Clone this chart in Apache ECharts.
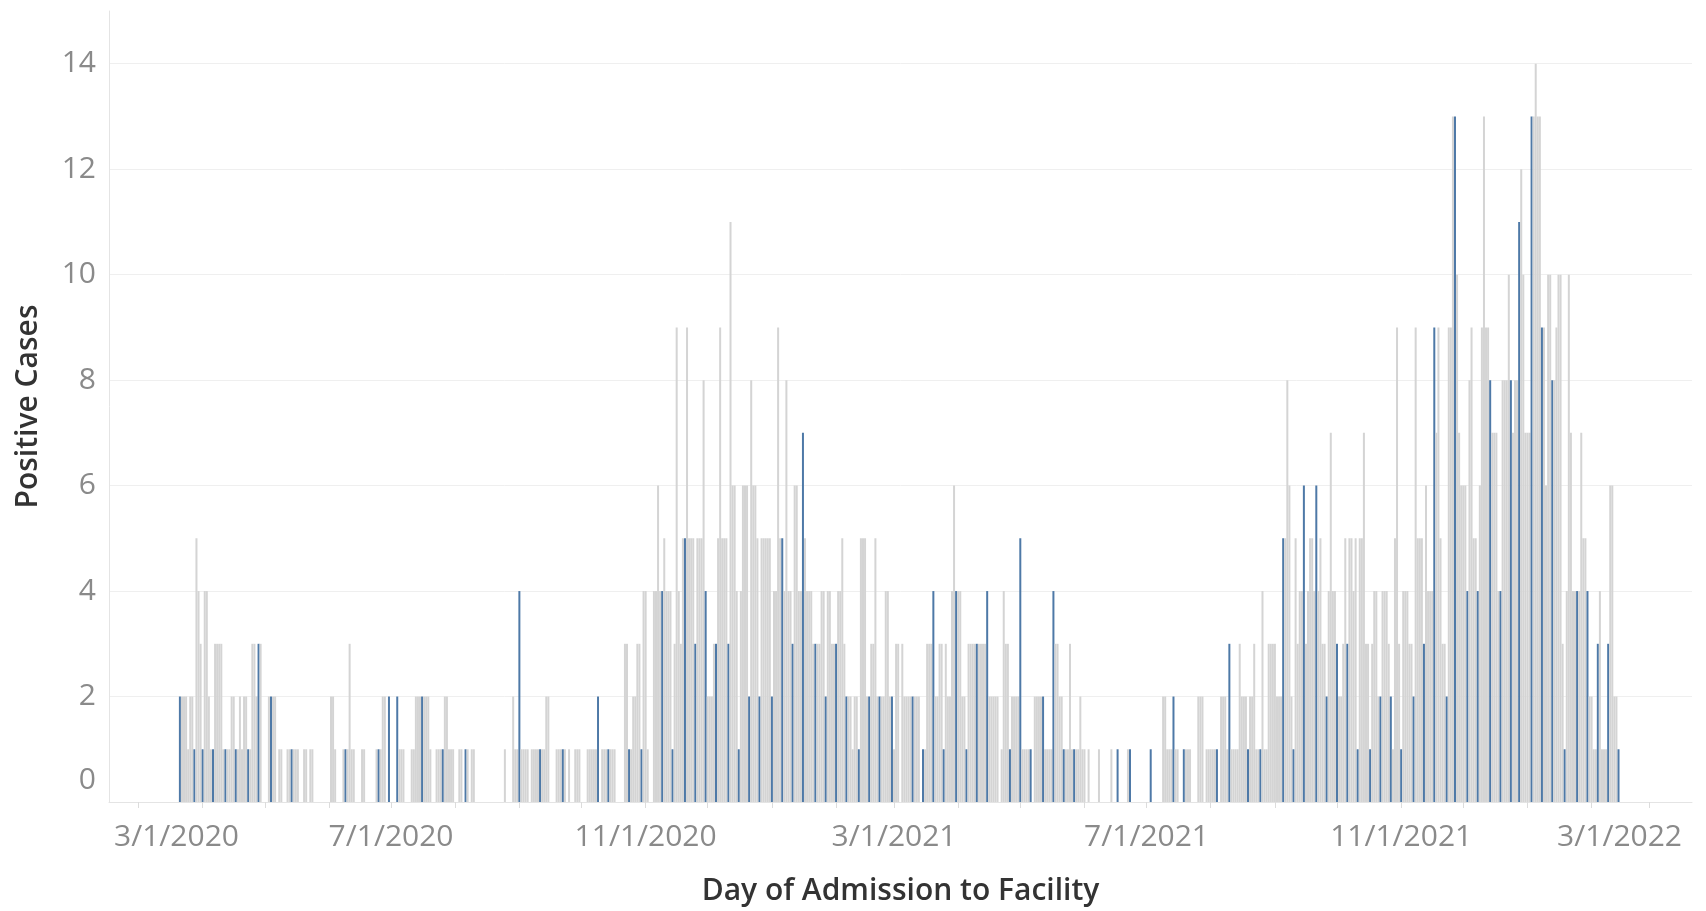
<!DOCTYPE html>
<html>
<head>
<meta charset="utf-8">
<title>Positive Cases by Day of Admission</title>
<script src="https://cdn.jsdelivr.net/npm/echarts@6/dist/echarts.min.js"></script>
<style>
  html, body { margin: 0; padding: 0; background: #fff; }
  #chart { width: 1706px; height: 911px; }
</style>
</head>
<body>
<div id="chart"></div>
<script>
// first day of the daily series (UTC)
const seriesStart = '2020-03-19'

// positive cases per day of admission, one value per day from seriesStart
const positiveCases = [
  0,0,2,2,2,2,1,2,2,1, 5,4,3,1,4,4,2,1,1,3, 3,3,3,1,1,1,1,2,2,1, 1,2,1,2,2,1,1,3,3,2, 3,3,0,0,0,2,2,2,2,0, 1,1,0,0,1,1,1,1,1,
  1,0,0,1,1,0,1,1,0,0, 0,0,0,0,0,0,2,2,1,0, 0,0,1,1,1,3,1,1,0,0, 0,1,1,0,0,0,0,0,1,1, 1,2,2,0,2,0,0,0,2,1, 1,1,0,0,0,1,1,2,2,
  2,2,2,2,2,1,0,0,1,1, 1,1,2,2,1,1,1,0,0,1, 1,0,1,1,0,1,1,0,0,0, 0,0,0,0,0,0,0,0,0,0, 0,1,0,0,0,2,1,1,4,1, 1,1,1,0,1,1,1,1,1,
  1,1,2,2,0,0,0,1,1,1, 1,1,0,1,0,0,1,1,1,0, 0,0,1,1,1,1,1,2,0,1, 1,1,1,1,1,1,0,0,0,0, 3,3,1,1,2,2,3,3,1,4, 4,1,0,0,4,4,6,4,4,
  5,4,4,4,1,3,9,4,3,5, 5,9,5,5,5,3,5,5,5,8, 4,2,2,2,3,3,5,9,5,5, 5,3,11,6,6,4,1,4,6,6, 6,2,8,6,6,5,2,5,5,5, 5,5,2,4,4,9,5,5,4,
  8,4,4,3,6,6,4,4,7,5, 4,4,4,3,3,3,3,4,4,2, 4,4,3,3,3,4,4,5,3,2, 2,2,1,2,2,1,5,5,5,2, 2,3,3,5,2,2,2,2,4,4, 2,2,1,3,3,0,3,2,2,
  2,2,2,2,2,2,0,1,1,3, 3,3,4,2,2,3,3,1,3,2, 2,4,6,4,4,4,2,2,1,3, 3,3,3,3,3,3,3,3,4,2, 2,2,2,2,0,1,4,3,3,1, 2,2,2,2,5,1,1,1,1,
  1,0,2,2,2,2,2,1,1,1, 1,4,3,3,2,2,1,1,1,3, 1,1,1,1,2,1,1,0,1,0, 0,0,0,1,0,0,0,0,0,1, 0,0,1,0,0,0,0,1,1,0, 0,0,0,0,0,0,0,0,1,
  0,0,0,0,0,2,2,1,1,1, 2,1,1,0,0,1,1,1,1,0, 0,0,2,2,2,0,1,1,1,1, 1,1,0,2,2,2,1,3,1,1, 1,1,3,2,2,2,1,2,2,3, 1,1,1,4,1,1,3,3,3,
  3,2,2,2,5,5,8,6,2,1, 5,3,4,4,6,3,4,5,5,4, 6,4,5,3,3,2,4,7,4,4, 3,2,2,3,5,3,5,5,4,5, 1,5,5,7,3,3,1,3,4,4, 2,2,4,4,4,3,2,1,5,
  9,3,1,4,4,4,3,3,2,9, 5,5,5,3,6,4,4,4,9,7, 9,5,3,3,2,9,9,13,13,10, 7,6,6,6,4,8,9,5,5,4, 6,9,13,9,9,8,7,7,7,4, 4,8,8,8,10,8,7,8,8,
  11,12,10,7,7,7,13,13,14,13, 13,9,9,6,10,10,8,8,9,10, 10,3,1,4,10,7,4,4,4,4, 7,5,5,4,2,2,1,1,3,4, 1,1,1,3,6,6,2,2,1
]

// days (index into positiveCases) drawn in the highlight colour
const highlightDays = [
  2, 9, 13, 18, 24, 29, 35, 40, 46, 56,
  82, 98, 103, 107,
  119, 129, 140, 166, 176,
  187, 204, 209, 219, 225, 235,
  240, 246, 251, 256, 261, 267, 272, 277, 282, 288, 293,
  298, 303, 309, 314, 319, 324, 330, 335, 340, 346,
  356, 361, 366, 371, 377, 382, 387, 392, 403, 408,
  413, 419, 424, 429, 434, 455, 461, 471,
  482, 487, 503, 509, 518, 524,
  535, 540, 545, 551, 556, 561, 566, 571, 577, 582, 587,
  592, 598, 603, 608, 614, 618, 624, 629, 635, 640, 645,
  649, 655, 660, 665, 671, 677, 682, 687, 692, 697
]

// x axis tick labels
const tickLabels = ['3/1/2020', '7/1/2020', '11/1/2020', '3/1/2021', '7/1/2021', '11/1/2021', '3/1/2022']

const GRAY = '#d4d4d4'
const BLUE = '#4e79a7'
const DAY = 86400000

function parseUtc(s) {
  if (s.indexOf('-') > 0) {
    const p = s.split('-').map(Number)
    return Date.UTC(p[0], p[1] - 1, p[2])
  }
  const p = s.split('/').map(Number)
  return Date.UTC(p[2], p[0] - 1, p[1])
}

const t0 = parseUtc(seriesStart)
const tickStamps = tickLabels.map(parseUtc)

// small monthly ticks along the date axis
const monthTicks = []
for (let y = 2020, m = 2; y < 2022 || (y === 2022 && m <= 2); m++) {
  if (m > 11) { m = 0; y++ }
  if (y === 2022 && m > 2) break
  monthTicks.push(Date.UTC(y, m, 1))
}

const highlightSet = new Set(highlightDays)
const barData = []
positiveCases.forEach((v, i) => {
  if (!v) return
  barData.push({
    value: [t0 + i * DAY, v],
    itemStyle: {color: highlightSet.has(i) ? BLUE : GRAY}
  })
})

const FONT = '"Open Sans", "Noto Sans", sans-serif'

const chart = echarts.init(document.getElementById('chart'), null, {renderer: 'canvas'})
chart.setOption({
  animation: false,
  backgroundColor: '#ffffff',
  textStyle: {fontFamily: FONT},
  grid: {left: 109, right: 14, top: 11, bottom: 109, containLabel: false},
  xAxis: {
    type: 'value',
    min: Date.UTC(2020, 1, 15, 18),
    max: Date.UTC(2022, 2, 21, 12),
    scale: true,
    name: 'Day of Admission to Facility',
    nameLocation: 'middle',
    nameGap: 74,
    nameTextStyle: {color: '#333333', fontSize: 30, fontWeight: 600, fontFamily: FONT},
    axisLine: {show: true, lineStyle: {color: '#e4e4e4', width: 1}},
    axisTick: {show: true, customValues: monthTicks, length: 6, lineStyle: {color: '#dcdcdc'}},
    splitLine: {show: false},
    axisLabel: {
      customValues: tickStamps,
      margin: 20,
      color: '#8a8a8a',
      fontSize: 30,
      fontFamily: FONT,
      formatter: function (val) {
        const k = tickStamps.indexOf(val)
        if (k < 0) return ''
        if (k === 0) return '{first|' + tickLabels[k] + '}'
        if (k === tickLabels.length - 1) return '{last|' + tickLabels[k] + '}'
        return tickLabels[k]
      },
      rich: {
        first: {padding: [0, 0, 0, 76], color: '#8a8a8a', fontSize: 30, fontFamily: FONT},
        last: {padding: [0, 60, 0, 0], color: '#8a8a8a', fontSize: 30, fontFamily: FONT}
      }
    }
  },
  yAxis: {
    type: 'value',
    min: 0,
    max: 15,
    interval: 2,
    name: 'Positive Cases',
    nameLocation: 'middle',
    nameGap: 66,
    nameTextStyle: {color: '#333333', fontSize: 30, fontWeight: 600, fontFamily: FONT},
    axisLine: {show: true, lineStyle: {color: '#e4e4e4', width: 1}},
    axisTick: {show: false},
    splitLine: {show: true, showMaxLine: false, lineStyle: {color: '#efefef', width: 1}},
    axisLabel: {
      showMaxLabel: false,
      margin: 13,
      color: '#8a8a8a',
      fontSize: 30,
      fontFamily: FONT,
      formatter: function (v) {
        return v === 0 ? '{zero|0}' : String(v)
      },
      rich: {
        zero: {padding: [0, 0, 44, 0], color: '#8a8a8a', fontSize: 30, fontFamily: FONT}
      }
    }
  },
  series: [{
    type: 'bar',
    name: 'Positive Cases',
    data: barData,
    barWidth: 2,
    itemStyle: {color: GRAY}
  }]
})
</script>
</body>
</html>
